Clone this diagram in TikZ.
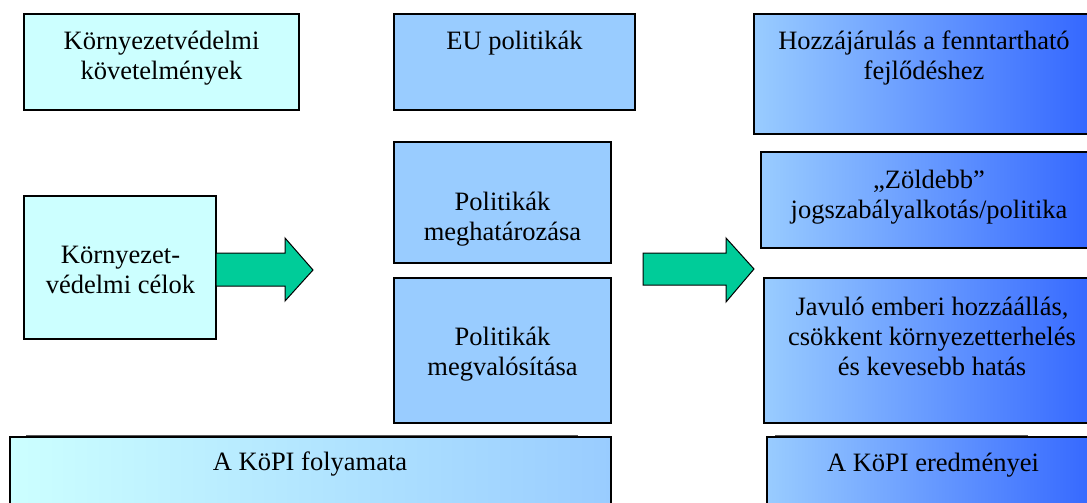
\documentclass[tikz,border=0pt]{standalone}
\usepackage{fontspec}
\setmainfont{Liberation Serif}
\usepackage{tikz}
\usetikzlibrary{calc,positioning}
\definecolor{paleCyan}{HTML}{CCFFFF}
\definecolor{skyBlue}{HTML}{99CCFF}
\definecolor{royalBlue}{HTML}{3366FF}
\definecolor{arrowGreen}{HTML}{00CC99}
\tikzset{
	box/.style={draw=black, line width=1.3pt, anchor=north west, inner sep=0pt, outer sep=0pt},
	txt/.style={align=center, anchor=base, inner sep=0pt, font=\fontsize{26.5}{30}\selectfont},
	fatarrow/.style={draw=black, line width=1pt, fill=arrowGreen, line join=miter},
	shadowline/.style={draw=black!65, line width=1.2pt}
}

\begin{document}
\begin{tikzpicture}[x=1pt, y=-1pt]
			%%%%% START %%%%%
			\path[use as bounding box] (0, 0) rectangle (1087, 503);
			\clip (0, 0) rectangle (1087, 503);
			\fill[white] (0, 0) rectangle (1087, 503);
			
			% left column
			\node[box, fill=paleCyan, minimum width=275pt, minimum height=96pt] (kov) at (24, 14) {};
			\node[txt] (kovT) at (161.5, 80) {Környezetvédelmi\\követelmények};
			
			\node[box, fill=paleCyan, minimum width=192pt, minimum height=143pt] (celok) at (24, 196) {};
			\node[txt] (celokT) at (120.5, 293) {Környezet-\\védelmi célok};
			
			% middle column
			\node[box, fill=skyBlue, minimum width=241pt, minimum height=96pt] (eu) at (394, 14) {};
			\node[txt] (euT) at (514.5, 50) {EU politikák};
			
			\node[box, fill=skyBlue, minimum width=217pt, minimum height=121pt] (meghat) at (394, 142) {};
			\node[txt] (meghatT) at (502.5, 240) {Politikák\\meghatározása};
			
			\node[box, fill=skyBlue, minimum width=217pt, minimum height=145pt] (megval) at (394, 278) {};
			\node[txt] (megvalT) at (502.5, 375) {Politikák\\megvalósítása};
			
			% right column
			\node[box, left color=skyBlue, right color=royalBlue, minimum width=340pt, minimum height=120pt] (hozz) at (754, 14) {};
			\node[txt] (hozzT) at (924, 80) {Hozzájárulás a fenntartható\\fejlődéshez};
			
			\node[box, left color=skyBlue, right color=royalBlue, minimum width=336pt, minimum height=96pt] (zold) at (761, 152) {};
			\node[txt] (zoldT) at (929, 218) {„Zöldebb”\\jogszabályalkotás/politika};
			
			\node[box, left color=skyBlue, right color=royalBlue, minimum width=336pt, minimum height=145pt] (javulo) at (764, 278) {};
			\node[txt] (javuloT) at (932, 375) {Javuló emberi hozzáállás,\\csökkent környezetterhelés\\és kevesebb hatás};
			
			% bottom row
			\draw[shadowline] (26, 435.5) -- (578, 435.5);
			\node[box, left color=paleCyan, right color=skyBlue, minimum width=601pt, minimum height=80pt] (foly) at (10, 437) {};
			\node[txt] (folyT) at (310, 470) {A KöPI folyamata};
			
			\draw[shadowline] (775, 435.5) -- (1028, 435.5);
			\node[box, left color=skyBlue, right color=royalBlue, minimum width=333pt, minimum height=80pt] (ered) at (767, 437) {};
			\node[txt] (eredT) at (933, 471) {A KöPI eredményei};
			
			% arrows
			\draw[fatarrow] (celok.east |- 0, 253) -- (285, 253) -- (285, 238) -- (313, 270)
				-- (285, 301) -- (285, 286) -- (celok.east |- 0, 286) -- cycle;
			\draw[fatarrow] (643, 253) -- (726, 253) -- (726, 238) -- (754, 269)
				-- (726, 302) -- (726, 285) -- (643, 285) -- cycle;
			
			%%%%% END %%%%%
\end{tikzpicture}
\end{document}
